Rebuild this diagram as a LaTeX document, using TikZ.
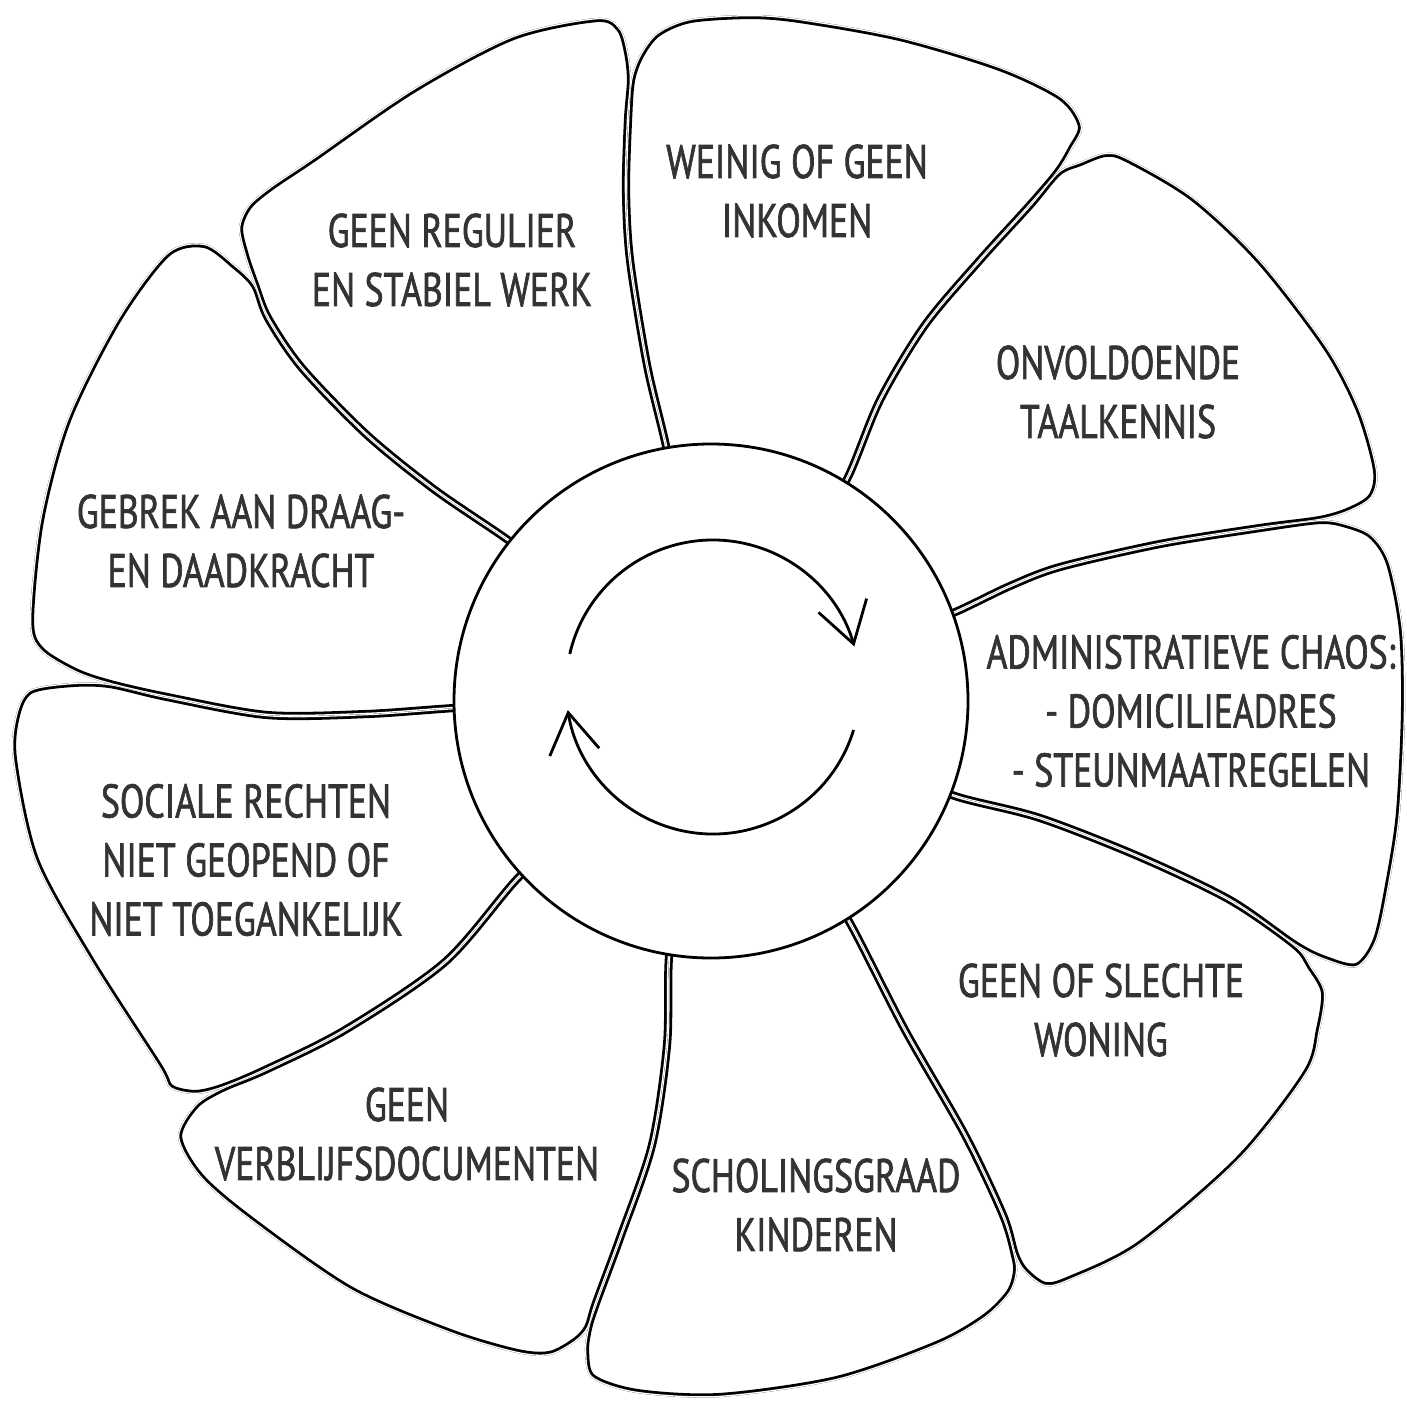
\documentclass[tikz,border=0pt]{standalone}
\usepackage{fontspec}
\setmainfont{PT Sans}[FakeStretch=0.76,FakeBold=1.4]
\usetikzlibrary{arrows.meta}
\newcommand{\petal}[1]{%
  \begin{scope}
    \clip plot[smooth cycle] coordinates {#1};
    \draw[line width=8.2pt] plot[smooth cycle] coordinates {#1};
    \draw[white,line width=2.6pt] plot[smooth cycle] coordinates {#1};
  \end{scope}}
\begin{document}
\begin{tikzpicture}[x=1pt,y=-1pt,line width=2.8pt,
  lbl/.style={align=center,inner sep=0pt,text=black!80,font=\fontsize{47}{59}\selectfont},
  cyc/.style={-{Straight Barb[length=40pt,width=50pt]}}]
\useasboundingbox (0,0) rectangle (1407,1408);
\petal{(693,599) (677,510) (666,446) (647,365) (630,260) (626,190) (628,120) (631,80) (640,55) (657,33) (690,19) (750,15) (800,19) (900,37) (1000,67) (1062,97) (1082,126) (1072,149) (1058,172) (1030,205) (980,260) (925,325) (880,400) (848,477) (814,533) (766,611)}
\petal{(766,611) (814,533) (848,477) (880,400) (925,325) (980,260) (1030,205) (1058,172) (1080,162) (1105,153) (1127,158) (1193,197) (1260,260) (1327,347) (1360,410) (1377,470) (1372,497) (1350,511) (1320,520) (1260,528) (1160,544) (1060,567) (1010,586) (953,613) (893,635) (808,666)}
\petal{(808,666) (893,635) (953,613) (1010,586) (1060,567) (1160,544) (1260,528) (1320,520) (1347,524) (1372,535) (1390,563) (1403,630) (1405,713) (1400,813) (1390,880) (1377,940) (1357,967) (1325,960) (1295,945) (1230,900) (1140,857) (1040,818) (958,797) (896,773) (810,739)}
\petal{(810,739) (896,773) (958,797) (1040,818) (1140,857) (1230,900) (1295,945) (1311,966) (1325,992) (1320,1030) (1307,1073) (1240,1159) (1140,1245) (1070,1280) (1045,1286) (1025,1272) (1015,1255) (1003,1215) (965,1135) (905,1030) (851,925) (816,869) (767,791)}
\petal{(767,791) (816,869) (851,925) (905,1030) (965,1135) (1003,1215) (1015,1255) (1017,1272) (1010,1293) (985,1318) (937,1345) (837,1380) (720,1397) (637,1393) (592,1378) (585,1352) (588,1328) (596,1303) (620,1238) (652,1145) (667,1045) (669,957) (680,893) (694,803)}
\petal{(694,803) (680,893) (669,957) (667,1045) (652,1145) (620,1238) (596,1303) (588,1328) (575,1342) (550,1355) (517,1353) (450,1333) (350,1290) (250,1220) (200,1177) (178,1137) (195,1105) (222,1088) (265,1070) (345,1030) (445,962) (517,879) (566,835) (633,772)}
\petal{(633,772) (566,835) (517,879) (445,962) (345,1030) (265,1070) (222,1088) (195,1094) (170,1088) (158,1066) (90,960) (35,860) (13,760) (16,715) (30,690) (72,683) (110,684) (167,697) (267,715) (367,714) (455,708) (519,706) (609,704)}
\petal{(609,704) (519,706) (455,708) (367,714) (267,715) (167,697) (110,684) (75,672) (40,650) (30,620) (40,520) (67,420) (117,320) (167,253) (205,244) (235,265) (255,285) (268,318) (302,368) (367,435) (435,490) (508,540) (559,580) (630,637)}
\petal{(630,637) (559,580) (508,540) (435,490) (367,435) (302,368) (268,318) (255,285) (245,256) (239,228) (248,206) (270,187) (313,158) (413,89) (513,36) (597,18) (620,28) (628,52) (631,80) (628,120) (626,190) (630,260) (647,365) (666,446) (677,510) (693,599)}
\draw[fill=white] (711,701) circle[radius=257];
\draw[cyc] ([shift={(713,687)}]-167:147) arc[start angle=-167,end angle=-16,radius=147];
\draw[cyc] ([shift={(713,687)}]17:147) arc[start angle=17,end angle=171,radius=147];
\node[lbl] (inkomen) at (797,191) {WEINIG OF GEEN\\INKOMEN};
\node[lbl] (taal) at (1118,392) {ONVOLDOENDE\\TAALKENNIS};
\node[lbl] (admin) at (1191,711) {ADMINISTRATIEVE CHAOS:\\- DOMICILIEADRES\\- STEUNMAATREGELEN};
\node[lbl] (woning) at (1101,1010) {GEEN OF SLECHTE\\WONING};
\node[lbl] (school) at (816,1205) {SCHOLINGSGRAAD\\KINDEREN};
\node[lbl] (verblijf) at (407,1134) {GEEN\\VERBLIJFSDOCUMENTEN};
\node[lbl] (rechten) at (246,860) {SOCIALE RECHTEN\\NIET GEOPEND OF\\NIET TOEGANKELIJK};
\node[lbl] (kracht) at (241,541) {GEBREK AAN DRAAG-\\EN DAADKRACHT};
\node[lbl] (werk) at (452,260) {GEEN REGULIER\\EN STABIEL WERK};
\end{tikzpicture}
\end{document}
